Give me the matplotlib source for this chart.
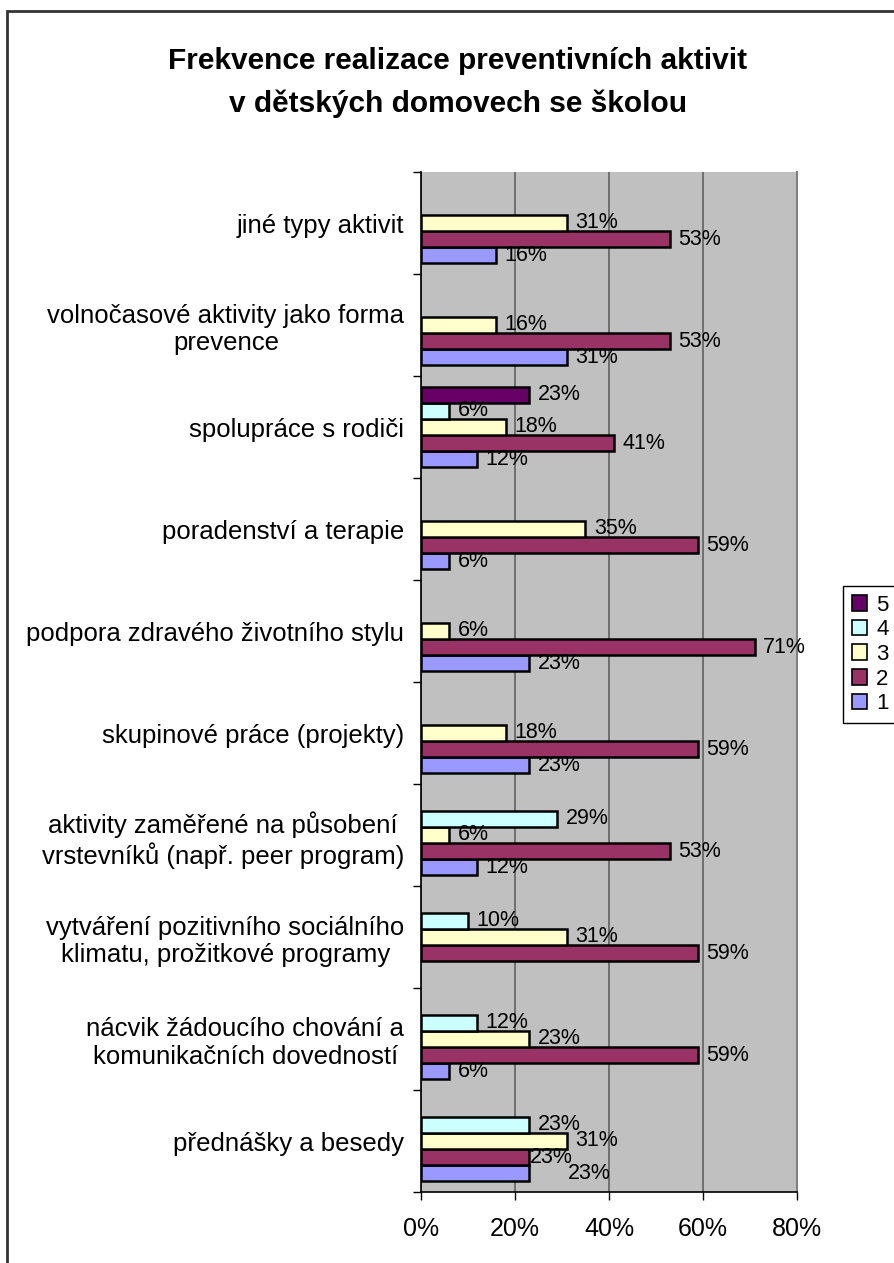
# -*- coding: utf-8 -*-

import numpy as np
import matplotlib.pyplot as plt
from matplotlib.patches import Patch, Rectangle

plt.rcParams['font.family'] = ['Liberation Sans', 'DejaVu Sans']

# kategorie odspodu nahoru
kategorie = [
    "přednášky a besedy",
    "nácvik žádoucího chování a\nkomunikačních dovedností",
    "vytváření pozitivního sociálního\nklimatu, prožitkové programy",
    "aktivity zaměřené na působení\nvrstevníků (např. peer program)",
    "skupinové práce (projekty)",
    "podpora zdravého životního stylu",
    "poradenství a terapie",
    "spolupráce s rodiči",
    "volnočasové aktivity jako forma\nprevence",
    "jiné typy aktivit",
]

nan = np.nan
s1 = [23, 6, nan, 12, 23, 23, 6, 12, 31, 16]
s2 = [23, 59, 59, 53, 59, 71, 59, 41, 53, 53]
s3 = [31, 23, 31, 6, 18, 6, 35, 18, 16, 31]
s4 = [23, 12, 10, 29, nan, nan, nan, 6, nan, nan]
s5 = [nan, nan, nan, nan, nan, nan, nan, 23, nan, nan]

serie = [s1, s2, s3, s4, s5]
nazvy = ["1", "2", "3", "4", "5"]
barvy = ['#9999FF', '#993366', '#FFFFCC', '#CCFFFF', '#660066']

# posunuté popisky u překrývajících se hodnot (serie, kategorie) -> body
posun = {(0, 0): 28, (1, 0): 0.5}

fig = plt.figure(figsize=(8.95, 12.63), dpi=100)
ax = fig.add_axes([421 / 895, 71 / 1263, 376 / 895, 1020 / 1263])
ax.set_facecolor('#C0C0C0')

y = np.arange(len(kategorie))
h = 0.157
for i, vals in enumerate(serie):
    off = (i - 2) * h
    vals = np.array(vals, dtype=float)
    ax.barh(y + off, vals, height=h, color=barvy[i], edgecolor='black',
            linewidth=1.8, zorder=3)
    for k, (yy, v) in enumerate(zip(y + off, vals)):
        if np.isnan(v):
            continue
        ax.annotate("%d%%" % v, (v, yy), xytext=(posun.get((i, k), 6), 0),
                    textcoords='offset points', ha='left', va='center',
                    fontsize=15.5, zorder=4)

ax.set_xlim(0, 80)
ax.set_ylim(-0.5, len(kategorie) - 0.5)

ax.set_xticks([0, 20, 40, 60, 80])
ax.set_xticklabels(["0%", "20%", "40%", "60%", "80%"], fontsize=18)
ax.tick_params(axis='x', direction='out', length=6, width=1, pad=12)
ax.grid(axis='x', color='#606060', linewidth=1.2, zorder=1)
ax.set_axisbelow(True)

ax.set_yticks(np.arange(-0.5, len(kategorie), 1))
ax.set_yticklabels([])
ax.set_yticks(y, minor=True)
ax.set_yticklabels(kategorie, minor=True, fontsize=18.5, multialignment='center')
ax.tick_params(axis='y', which='major', direction='out', length=6, width=1)
ax.tick_params(axis='y', which='minor', length=0, pad=12)

ax.spines['top'].set_visible(False)
ax.spines['right'].set_color('#808080')
ax.spines['right'].set_linewidth(1.5)
ax.spines['left'].set_linewidth(1.2)
ax.spines['bottom'].set_linewidth(1.2)

fig.text(458 / 895, 1 - 61 / 1263, "Frekvence realizace preventivních aktivit",
         ha='center', va='center', fontsize=21.5, fontweight='bold')
fig.text(458 / 895, 1 - 104 / 1263, "v dětských domovech se školou",
         ha='center', va='center', fontsize=21.5, fontweight='bold')

# legenda od 5 dolu k 1
handles = [Patch(facecolor=barvy[i], edgecolor='black', linewidth=1.2) for i in range(4, -1, -1)]
labels = [nazvy[i] for i in range(4, -1, -1)]
leg = fig.legend(handles, labels, loc='upper left', bbox_to_anchor=(843 / 895, 1 - 586 / 1263),
                 fontsize=16, handlelength=0.7, handleheight=0.7, handletextpad=0.4,
                 labelspacing=0.16, borderpad=0.4, borderaxespad=0, fancybox=False,
                 framealpha=1)
leg.get_frame().set_edgecolor('black')
leg.get_frame().set_linewidth(1.0)

# ramecek kolem celeho grafu
fig.add_artist(Rectangle((7 / 895, -0.1), 1.2, 1.1 - 11 / 1263, transform=fig.transFigure,
                         fill=False, edgecolor='#333333', linewidth=2, clip_on=False))

fig.savefig("out.png", dpi=100)
